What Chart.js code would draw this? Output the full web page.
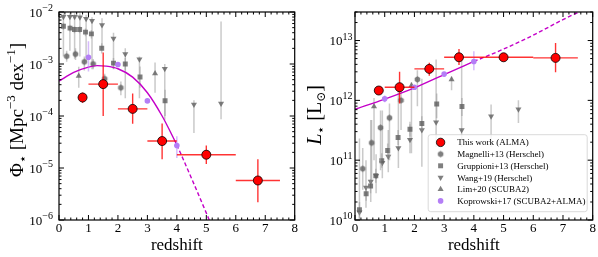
<!DOCTYPE html>
<html>
<head>
<meta charset="utf-8">
<script src="https://cdn.jsdelivr.net/npm/chart.js@4.4.1/dist/chart.umd.min.js"></script>
<style>
html, body { margin: 0; padding: 0; background: #fff; }
#wrap { position: relative; width: 598px; height: 257px; overflow: hidden; }
#left { position: absolute; left: 0; top: 0; }
#right { position: absolute; left: 300px; top: 0; }
</style>
</head>
<body>
<div id="wrap">
  <canvas id="left" width="300" height="257"></canvas>
  <canvas id="right" width="298" height="257"></canvas>
</div>
<script>
// axis ticks
const xTicks = [0, 1, 2, 3, 4, 5, 6, 7, 8];
const phiTicks = [1e-6, 1e-5, 1e-4, 1e-3, 1e-2];
const phiTickExp = ['−6', '−5', '−4', '−3', '−2'];
const lumTicks = [1e10, 1e11, 1e12, 1e13];
const lumTickExp = ['10', '11', '12', '13'];

// This work (ALMA)
const almaZ = [0.8, 1.5, 2.5, 3.5, 5.0, 6.75];
const almaZLo = [0.65, 1.0, 2.0, 3.0, 4.0, 6.0];
const almaZHi = [0.95, 2.0, 3.0, 4.0, 6.0, 7.5];
const almaPhi = [2.27e-4, 4.1e-4, 1.37e-4, 3.3e-5, 1.8e-5, 5.75e-6];
const almaPhiLo = [1.78e-4, 1.0e-4, 7.1e-5, 1.48e-5, 1.2e-5, 2.2e-6];
const almaPhiHi = [2.82e-4, 1.66e-3, 2.7e-4, 7.2e-5, 2.7e-5, 1.48e-5];
const almaL = [1.46e12, 1.66e12, 3.36e12, 5.25e12, 5.25e12, 5.13e12];
const almaLLo = [1.26e12, 8.9e11, 2.57e12, 3.9e12, 4.47e12, 2.95e12];
const almaLHi = [1.66e12, 3.0e12, 4.27e12, 7.2e12, 6.2e12, 9.1e12];

// Magnelli+13
const magZ = [0.26, 0.56, 0.86, 1.16, 1.55, 2.1];
const magPhi = [1.41e-3, 1.55e-3, 1.1e-3, 1.0e-3, 5.2e-4, 3.5e-4];
const magPhiLo = [1.1e-3, 1.2e-3, 7.5e-4, 7.9e-4, 4.2e-4, 2.5e-4];
const magPhiHi = [1.8e-3, 2.0e-3, 1.4e-3, 1.25e-3, 6.5e-4, 4.6e-4];
const magL = [7.2e10, 1.95e11, 3.5e11, 5.1e11, 1.0e12, 2.24e12];
const magLLo = [3.2e10, 4.7e10, 6.8e10, 1.0e11, 3.2e11, 8.0e11];
const magLHi = [1.6e11, 4.7e11, 6.8e11, 8.9e11, 1.8e12, 3.2e12];

// Gruppioni+13
const gruZ = [0.15, 0.375, 0.525, 0.7, 0.9, 1.1, 1.45, 1.85, 2.25, 2.75, 3.6];
const gruPhi = [5.3e-3, 4.9e-3, 4.6e-3, 4.6e-3, 4.1e-3, 3.8e-3, 2.0e-3, 1.04e-3, 1.0e-3, 5.6e-4, 1.96e-4];
const gruPhiLo = [4.5e-3, 4.2e-3, 3.9e-3, 3.9e-3, 3.4e-3, 3.1e-3, 1.6e-3, 8.0e-4, 7.5e-4, 3.5e-4, 1.0e-4];
const gruPhiHi = [6.2e-3, 5.7e-3, 5.3e-3, 5.3e-3, 4.8e-3, 4.5e-3, 2.5e-3, 1.3e-3, 1.3e-3, 9.0e-4, 3.2e-4];
const gruL = [1.48e10, 2.75e10, 3.7e10, 5.5e10, 9.8e10, 1.45e11, 2.4e11, 3.3e11, 4.1e11, 8.7e11, 7.9e11];
const gruLLo = [1.05e10, 2.1e10, 2.8e10, 4.2e10, 7.5e10, 1.1e11, 1.8e11, 2.5e11, 3.1e11, 5.0e11, 5.5e11];
const gruLHi = [2.3e11, 3.6e10, 4.8e10, 7.2e10, 1.3e11, 1.9e11, 3.2e11, 4.4e11, 5.4e11, 1.3e12, 1.1e12];

// Wang+19
const wangZ = [0.15, 0.37, 0.53, 0.71, 0.92, 1.12, 1.46, 1.85, 2.25, 2.73, 3.59, 4.58, 5.5];
const wangPhi = [8.1e-3, 8.1e-3, 8.1e-3, 7.9e-3, 7.4e-3, 6.8e-3, 5.6e-3, 3.1e-3, 1.55e-3, 1.23e-3, 8.1e-4, 1.66e-4, 1.74e-4];
const wangPhiLo = [1.4e-3, 1.8e-3, 1.26e-3, 1.4e-3, 1.12e-3, 7.9e-4, 2.0e-3, 7.9e-4, 2.2e-4, 2.2e-4, 8.5e-5, 4.7e-5, 8.7e-5];
const wangPhiHi = [9.5e-3, 9.5e-3, 9.5e-3, 9.5e-3, 8.9e-3, 7.9e-3, 7.6e-3, 4.0e-3, 2.0e-3, 1.4e-3, 1.0e-3, 2.0e-4, 6.6e-3];
const wangL = [1.35e10, 3.5e10, 4.4e10, 5.5e10, 9.1e10, 1.15e11, 1.6e11, 2.2e11, 3.2e11, 4.3e11, 3.2e11, 5.4e11, 7.1e11];
const wangLLo = [1.05e10, 1.6e10, 2.0e10, 2.8e10, 5.0e10, 6.3e10, 7.4e10, 1.3e11, 7.8e10, 1.66e11, 1.66e11, 1.66e11, 4.2e11];
const wangLHi = [2.0e10, 1.0e11, 4.7e11, 1.26e11, 6.8e11, 3.2e11, 1.78e12, 4.0e11, 2.3e12, 4.8e12, 5.4e12, 8.5e11, 1.0e12];

// Lim+20
const limPhiZ = [0.67, 3.26];
const limPhi = [5.9e-4, 6.6e-4];
const limPhiLo = [3.5e-4, 2.8e-4];
const limPhiHi = [8.9e-4, 1.07e-3];
const limLZ = [0.64, 1.9, 3.25];
const limL = [7.9e11, 1.78e12, 2.24e12];
const limLLo = [1.0e11, 1.3e11, 1.48e12];
const limLHi = [1.1e12, 2.0e12, 2.5e12];

// Koprowski+17
const kopZ = [1, 2, 3, 4];
const kopPhi = [1.35e-3, 9.8e-4, 1.95e-4, 2.7e-5];
const kopPhiLo = [7.2e-4, 9.0e-4, 1.8e-4, 1.55e-5];
const kopPhiHi = [2.75e-3, 1.07e-3, 2.1e-4, 4.1e-5];
const kopL = [1.06e12, 1.66e12, 2.75e12, 4.47e12];
const kopLLo = [9.3e11, 1.55e12, 2.6e12, 3.2e12];
const kopLHi = [1.2e12, 1.78e12, 2.95e12, 6.6e12];

// best-fit evolution (solid) and extrapolation (dashed)
const phiFitZ = [0, 0.5, 1.0, 1.3, 1.6, 2.0, 2.5, 3.0, 3.5, 4.0];
const phiFit = [4.7e-4, 6.9e-4, 8.7e-4, 9.3e-4, 9.1e-4, 8.1e-4, 5.6e-4, 2.8e-4, 1.0e-4, 2.8e-5];
const phiExtZ = [4.0, 4.5, 5.1];
const phiExt = [2.8e-5, 6.3e-6, 1.0e-6];
const lumFitZ = [0, 1, 2, 3, 4];
const lumFit = [7.1e11, 1.05e12, 1.62e12, 2.7e12, 4.47e12];
const lumExtZ = [4, 5, 6, 7, 7.6];
const lumExt = [4.47e12, 7.2e12, 1.23e13, 2.24e13, 3.1e13];

const legendLabels = ['This work (ALMA)', 'Magnelli+13 (Herschel)', 'Gruppioni+13 (Herschel)',
  'Wang+19 (Herschel)', 'Lim+20 (SCUBA2)', 'Koprowski+17 (SCUBA2+ALMA)'];

const SERIF = '"Liberation Serif", "DejaVu Serif", serif';
const RED = '#ff0000';
const GREY = 'rgba(95,95,95,0.8)';
const PURPLE = '#b47ef6';
const MAGENTA = '#c400c8';
const GREY_ERR = 'rgba(150,150,150,0.5)';
const PURPLE_ERR = 'rgba(180,130,250,0.55)';

// hexagon marker (no built-in one in Chart.js)
function hexCanvas(r, color) {
  const c = document.createElement('canvas');
  c.width = c.height = Math.ceil(2 * r + 2);
  const g = c.getContext('2d');
  const m = c.width / 2;
  g.beginPath();
  for (let i = 0; i < 6; i++) {
    const ang = -Math.PI / 2 + i * Math.PI / 3;
    const px = m + r * Math.cos(ang), py = m + r * Math.sin(ang);
    if (i === 0) g.moveTo(px, py); else g.lineTo(px, py);
  }
  g.closePath();
  g.fillStyle = color;
  g.fill();
  return c;
}
const hexImg = hexCanvas(3.2, GREY);

function pts(xs, ys) {
  return xs.map((v, i) => ({x: v, y: ys[i]}));
}

// error bars, drawn just before each dataset
const errorBars = {
  id: 'errorBars',
  beforeDatasetDraw(chart, args) {
    const ds = chart.data.datasets[args.index];
    const e = ds.errors;
    if (!e) return;
    const {ctx, chartArea: a} = chart;
    const xs = chart.scales.x, ys = chart.scales.y;
    ctx.save();
    ctx.beginPath();
    ctx.rect(a.left, a.top, a.right - a.left, a.bottom - a.top);
    ctx.clip();
    ctx.strokeStyle = e.color;
    ctx.lineWidth = e.width;
    ds.data.forEach((p, i) => {
      const px = xs.getPixelForValue(p.x), py = ys.getPixelForValue(p.y);
      ctx.beginPath();
      if (e.yLo) {
        ctx.moveTo(px, ys.getPixelForValue(e.yLo[i]));
        ctx.lineTo(px, ys.getPixelForValue(e.yHi[i]));
      }
      if (e.xLo) {
        ctx.moveTo(xs.getPixelForValue(e.xLo[i]), py);
        ctx.lineTo(xs.getPixelForValue(e.xHi[i]), py);
      }
      ctx.stroke();
    });
    ctx.restore();
  }
};

function drawRich(ctx, parts, cx, cy, rotate) {
  ctx.save();
  ctx.translate(cx, cy);
  if (rotate) ctx.rotate(-Math.PI / 2);
  let total = 0;
  parts.forEach(p => { ctx.font = p.font; p.w = ctx.measureText(p.t).width; total += p.w; });
  let x = -total / 2;
  ctx.textAlign = 'left';
  ctx.textBaseline = 'alphabetic';
  ctx.fillStyle = '#000';
  parts.forEach(p => { ctx.font = p.font; ctx.fillText(p.t, x, p.dy || 0); x += p.w; });
  ctx.restore();
}

// frame, inward ticks, tick labels and axis titles
function axesPlugin(cfg) {
  return {
    id: 'axes',
    afterDraw(chart) {
      const {ctx, chartArea: a} = chart;
      const xs = chart.scales.x, ys = chart.scales.y;
      ctx.save();
      ctx.strokeStyle = '#000';
      ctx.lineWidth = 1;
      ctx.beginPath();
      for (let i = 0; i <= 40; i++) {
        const px = xs.getPixelForValue(i * 0.2);
        const len = i % 5 === 0 ? 5 : 2.5;
        ctx.moveTo(px, a.bottom); ctx.lineTo(px, a.bottom - len);
        ctx.moveTo(px, a.top); ctx.lineTo(px, a.top + len);
      }
      cfg.yTicks.forEach(t => {
        for (let m = 1; m <= 9; m++) {
          const v = t * m;
          if (v > cfg.yMax * 1.0001) break;
          const py = ys.getPixelForValue(v);
          const len = m === 1 ? 5 : 2.5;
          ctx.moveTo(a.left, py); ctx.lineTo(a.left + len, py);
          ctx.moveTo(a.right, py); ctx.lineTo(a.right - len, py);
        }
      });
      ctx.stroke();
      ctx.lineWidth = 1.2;
      ctx.strokeRect(a.left, a.top, a.right - a.left, a.bottom - a.top);

      ctx.fillStyle = '#000';
      ctx.font = '13px ' + SERIF;
      ctx.textAlign = 'center';
      ctx.textBaseline = 'alphabetic';
      xTicks.forEach(t => ctx.fillText(String(t), xs.getPixelForValue(t), 232));

      cfg.yTicks.forEach((t, i) => {
        const py = ys.getPixelForValue(t);
        const xr = a.left - cfg.gap;
        ctx.textAlign = 'left';
        ctx.font = '10px ' + SERIF;
        const ew = ctx.measureText(cfg.yExp[i]).width;
        ctx.fillText(cfg.yExp[i], xr - ew, py - 1);
        ctx.font = '13px ' + SERIF;
        const bw = ctx.measureText('10').width;
        ctx.fillText('10', xr - ew - bw, py + 4.5);
      });
      ctx.restore();

      drawRich(ctx, [{t: 'redshift', font: '17px ' + SERIF}], (a.left + a.right) / 2, 250, false);
      drawRich(ctx, cfg.yTitle, cfg.yTitleX, cfg.yTitleY, true);
    }
  };
}

function drawMarker(ctx, kind, x, y) {
  ctx.save();
  if (kind === 'hex') {
    ctx.drawImage(hexImg, x - hexImg.width / 2, y - hexImg.height / 2);
    ctx.restore();
    return;
  }
  ctx.beginPath();
  if (kind === 'red') {
    ctx.arc(x, y, 4.2, 0, Math.PI * 2);
    ctx.fillStyle = RED;
  } else if (kind === 'purple') {
    ctx.arc(x, y, 2.8, 0, Math.PI * 2);
    ctx.fillStyle = PURPLE;
  } else if (kind === 'rect') {
    const s = 3.5 * Math.SQRT1_2;
    ctx.rect(x - s, y - s, 2 * s, 2 * s);
    ctx.fillStyle = GREY;
  } else {
    const d = kind === 'down' ? -1 : 1, r = 3.5;
    ctx.moveTo(x, y - r * d);
    ctx.lineTo(x + 0.866 * r, y + 0.5 * r * d);
    ctx.lineTo(x - 0.866 * r, y + 0.5 * r * d);
    ctx.closePath();
    ctx.fillStyle = GREY;
  }
  ctx.fill();
  if (kind === 'red') { ctx.lineWidth = 0.8; ctx.strokeStyle = '#000'; ctx.stroke(); }
  ctx.restore();
}

const legendBox = {
  id: 'legendBox',
  afterDatasetsDraw(chart) {
    const {ctx, chartArea: a} = chart;
    const w = 159, h = 77;
    const x0 = a.right - 5.5 - w, y0 = a.bottom - 8.3 - h;
    ctx.save();
    ctx.beginPath();
    ctx.roundRect(x0, y0, w, h, 2.5);
    ctx.fillStyle = 'rgba(255,255,255,0.82)';
    ctx.fill();
    ctx.strokeStyle = '#d0d0d0';
    ctx.lineWidth = 0.8;
    ctx.stroke();
    const kinds = ['red', 'hex', 'rect', 'down', 'up', 'purple'];
    ctx.font = '9px ' + SERIF;
    ctx.fillStyle = '#000';
    ctx.textAlign = 'left';
    ctx.textBaseline = 'alphabetic';
    legendLabels.forEach((lab, i) => {
      const ry = y0 + 7.7 + i * 11.7;
      drawMarker(ctx, kinds[i], x0 + 12.4, ry);
      ctx.fillStyle = '#000';
      ctx.fillText(lab, x0 + 29, ry + 3);
    });
    ctx.restore();
  }
};

function greySet(label, xs, ys, lo, hi, style, radius, rot) {
  return {
    label: label, data: pts(xs, ys), pointStyle: style, pointRadius: radius,
    pointRotation: rot || 0, pointBackgroundColor: GREY, pointBorderWidth: 0,
    errors: {yLo: lo, yHi: hi, color: GREY_ERR, width: 1.5}
  };
}

function buildSets(p) {
  return [
    {label: 'This work (ALMA)', data: pts(almaZ, p.alma), pointStyle: 'circle', pointRadius: 4.5,
      pointBackgroundColor: RED, pointBorderColor: '#000', pointBorderWidth: 0.8,
      errors: {xLo: almaZLo, xHi: almaZHi, yLo: p.almaLo, yHi: p.almaHi, color: 'rgba(255,0,0,0.8)', width: 1.4}},
    {label: 'Koprowski+17 (SCUBA2+ALMA)', data: pts(kopZ, p.kop), pointStyle: 'circle', pointRadius: 2.8,
      pointBackgroundColor: PURPLE, pointBorderWidth: 0,
      errors: {yLo: p.kopLo, yHi: p.kopHi, color: PURPLE_ERR, width: 1.5}},
    {label: 'fit', data: pts(p.fitZ, p.fit), showLine: true, pointRadius: 0, borderColor: MAGENTA,
      borderWidth: 1.4, cubicInterpolationMode: 'monotone', fill: false},
    {label: 'extrapolation', data: pts(p.extZ, p.ext), showLine: true, pointRadius: 0, borderColor: MAGENTA,
      borderWidth: 1.4, borderDash: [4, 2.5], cubicInterpolationMode: 'monotone', fill: false},
    greySet('Magnelli+13 (Herschel)', magZ, p.mag, p.magLo, p.magHi, hexImg, 3),
    greySet('Gruppioni+13 (Herschel)', gruZ, p.gru, p.gruLo, p.gruHi, 'rect', 3.5),
    greySet('Wang+19 (Herschel)', wangZ, p.wang, p.wangLo, p.wangHi, 'triangle', 3.5, 180),
    greySet('Lim+20 (SCUBA2)', p.limZ, p.lim, p.limLo, p.limHi, 'triangle', 3.5)
  ];
}

function makeChart(id, sets, yMin, yMax, yWidth, padRight, plugins) {
  return new Chart(document.getElementById(id), {
    type: 'scatter',
    data: {datasets: sets},
    options: {
      responsive: false,
      maintainAspectRatio: false,
      animation: false,
      events: [],
      layout: {padding: {top: 12, right: padRight, left: 0, bottom: 0}},
      plugins: {legend: {display: false}, tooltip: {enabled: false}},
      scales: {
        x: {type: 'linear', min: 0, max: 8, ticks: {display: false}, grid: {display: false},
          border: {display: false}, afterFit: s => { s.height = 37; }},
        y: {type: 'logarithmic', min: yMin, max: yMax, ticks: {display: false}, grid: {display: false},
          border: {display: false}, afterFit: s => { s.width = yWidth; }}
      }
    },
    plugins: plugins
  });
}

const leftSets = buildSets({
  alma: almaPhi, almaLo: almaPhiLo, almaHi: almaPhiHi,
  kop: kopPhi, kopLo: kopPhiLo, kopHi: kopPhiHi,
  fitZ: phiFitZ, fit: phiFit, extZ: phiExtZ, ext: phiExt,
  mag: magPhi, magLo: magPhiLo, magHi: magPhiHi,
  gru: gruPhi, gruLo: gruPhiLo, gruHi: gruPhiHi,
  wang: wangPhi, wangLo: wangPhiLo, wangHi: wangPhiHi,
  limZ: limPhiZ, lim: limPhi, limLo: limPhiLo, limHi: limPhiHi
});
const rightSets = buildSets({
  alma: almaL, almaLo: almaLLo, almaHi: almaLHi,
  kop: kopL, kopLo: kopLLo, kopHi: kopLHi,
  fitZ: lumFitZ, fit: lumFit, extZ: lumExtZ, ext: lumExt,
  mag: magL, magLo: magLLo, magHi: magLHi,
  gru: gruL, gruLo: gruLLo, gruHi: gruLHi,
  wang: wangL, wangLo: wangLLo, wangHi: wangLHi,
  limZ: limLZ, lim: limL, limLo: limLLo, limHi: limLHi
});

makeChart('left', leftSets, 1e-6, 1e-2, 59, 4, [errorBars, axesPlugin({
  yTicks: phiTicks, yExp: phiTickExp, yMax: 1e-2, gap: 6,
  yTitleX: 23, yTitleY: 110,
  yTitle: [
    {t: 'Φ', font: '19px ' + SERIF}, {t: '⋆', font: '13px ' + SERIF, dy: 4},
    {t: ' [Mpc', font: '19px ' + SERIF}, {t: '−3', font: '13px ' + SERIF, dy: -8},
    {t: ' dex', font: '19px ' + SERIF}, {t: '−1', font: '13px ' + SERIF, dy: -8},
    {t: ']', font: '19px ' + SERIF}
  ]
})]);

makeChart('right', rightSets, 1e10, 3e13, 55, 5, [errorBars, legendBox, axesPlugin({
  yTicks: lumTicks, yExp: lumTickExp, yMax: 3e13, gap: 2.5,
  yTitleX: 20.7, yTitleY: 115,
  yTitle: [
    {t: 'L', font: 'italic 20px ' + SERIF}, {t: '⋆', font: '13px ' + SERIF, dy: 4},
    {t: ' [L', font: '20px ' + SERIF}, {t: '⊙', font: '12px ' + SERIF, dy: 4},
    {t: ']', font: '20px ' + SERIF}
  ]
})]);
</script>
</body>
</html>
